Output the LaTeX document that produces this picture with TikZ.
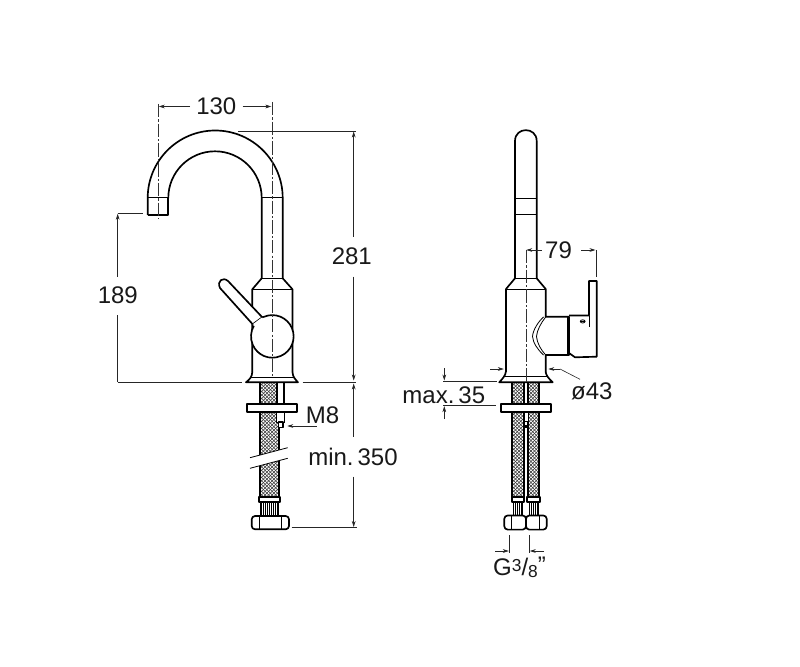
\documentclass[tikz,border=0pt]{standalone}
\usepackage{fontspec}
\setmainfont{Liberation Sans}
\usetikzlibrary{arrows.meta}
\newcommand\braidfill[4]{%
  \begin{scope}
    \clip (#1,#2) rectangle (#3,#4);
    \foreach \k in {-130,-126.5,...,30} {
      \draw[mesh] ({#1+\k},#2) -- ({#1+\k+#4-#2},#4);
      \draw[mesh] ({#1+\k},#4) -- ({#1+\k+#4-#2},#2);
    }
  \end{scope}}
\tikzset{
  body/.style={line width=1.25pt,line join=round,black},
  thin part/.style={line width=0.6pt,black},
  mesh/.style={line width=0.42pt,black!80},
  dimline/.style={line width=0.45pt,black!85},
  dimarrow/.style={dimline,-{Stealth[length=4.5pt,width=2.8pt]}},
  axis/.style={line width=0.45pt,black!80,dash pattern=on 10pt off 1.6pt on 1.6pt off 1.6pt},
  dimtext/.style={font=\fontsize{18}{20}\selectfont,inner sep=0pt,text=black!90}
}
\begin{document}
\begin{tikzpicture}[x=0.75pt,y=-0.75pt]
\useasboundingbox (0,0) rectangle (800,667);
\fill[white] (0,0) rectangle (800,667);

%% ---------- front view ----------
\braidfill{260}{382.3}{277.3}{404.3}
\braidfill{260}{412.3}{279.3}{497}
\draw[body] (147.7,215) -- (147.7,198) arc[start angle=180,end angle=360,radius=67.5]
  -- (282.7,278.3) -- (292.5,289.3) -- (292.5,372);
\draw[body] (168.3,198) arc[start angle=180,end angle=360,radius=46.7] -- (261.7,278.3) -- (252.3,289.3) -- (252.3,372);
\draw[body] (147.7,215) -- (168.3,215) -- (168.3,198);
\draw[thin part] (147.7,197.6) -- (168.3,197.6) (261.7,197.6) -- (282.7,197.6);
\draw[thin part] (261.7,278.3) -- (282.7,278.3);
\draw[thin part] (252.3,289.3) -- (292.5,289.3);
% base flange
\draw[body,fill=white] (252.3,372) .. controls (252,377) and (250,379) .. (246,382.3) -- (298,382.3)
  .. controls (295,379) and (292.8,377) .. (292.5,372);
\draw[thin part] (251,377) -- (293.5,377);
% tails
\draw[body] (260,382.3) -- (260,404.3) (277.3,382.3) -- (277.3,404.3) (284.3,382.3) -- (284.3,404.3);
\draw[body,fill=white] (247.3,404.3) rectangle (297.3,412.3);
\draw[body] (260,412.3) -- (260,497) (279.3,422) -- (279.3,497);
\draw[thin part,fill=white] (276,412.3) rectangle (284,422.3);
\draw[body,fill=white] (278.6,422.3) rectangle (283.3,427.6);
% handle and hub
\draw[body,fill=white] (262.3,317.3) -- (228,281) .. controls (223,276.5) and (216.5,281) .. (220,288)
  -- (252.7,324.3) -- cycle;
\fill[white] (272,336.7) circle[radius=21.3];
\fill[white] (252.7,324.3) -- (262.3,317.3) -- (270,330) -- cycle;
\draw[body] (262.3,317.3) -- (264,316.8) arc[start angle=247,end angle=570,radius=21.3];
% break in the hose
\fill[white] (250,457.7) -- (287.7,447.7) -- (287.7,458.3) -- (250,468.3) -- cycle;
\draw[thin part] (250,457.7) -- (287.7,447.7) (250,468.3) -- (287.7,458.3);
% connector
\draw[body,fill=white] (259.3,497) rectangle (280,502.3);
\draw[body] (261.3,502.3) -- (261.3,516) (278.3,502.3) -- (278.3,516);
\foreach \x in {263.5,265.5,...,277} \draw[line width=0.45pt] (\x,503) -- (\x,515.5);
\draw[body,fill=white,rounded corners=2.5pt] (251.7,516) rectangle (289,529.3);
\draw[thin part] (259.3,516.5) -- (259.3,529) (281.7,516.5) -- (281.7,529);

% axes
\draw[axis] (158.3,104) -- (158.3,219);
\draw[axis] (271.8,102) -- (271.8,378);

% dimension 130
\node[dimtext] (t130) at (216.3,106.5) {130};
\draw[dimarrow] (t130.west) ++(-6,0) -- (158.8,106.5);
\draw[dimarrow] (t130.east) ++(6,0) -- (271.3,106.5);
% dimension 281
\node[dimtext] (t281) at (351.8,256.5) {281};
\draw[dimline] (238,131) -- (356,131);
\draw[dimarrow] (353.7,236.7) -- (353.7,131.5);
\draw[dimarrow] (353.7,276.7) -- (353.7,380.5);
% dimension 189
\node[dimtext] (t189) at (117.8,295.5) {189};
\draw[dimline] (117.7,213.3) -- (143.3,213.3);
\draw[dimarrow] (117.7,276.7) -- (117.7,213.8);
\draw[dimline] (117.7,315) -- (117.7,382);
% base line
\draw[dimline] (117.7,382) -- (241.7,382) (302.7,382) -- (356,382);
% dimension min. 350
\node[dimtext] (t350) at (353,456.5) {min.\,350};
\draw[dimarrow] (353.7,436.7) -- (353.7,383.5);
\draw[dimarrow] (353.7,476.7) -- (353.7,527);
\draw[dimline] (291.7,527.5) -- (356.5,527.5);
% M8
\node[dimtext] (tm8) at (322.5,415) {M8};
\draw[dimarrow] (316.7,426) -- (287.3,426);

%% ---------- side view ----------
\braidfill{512.3}{382.3}{524}{404}
\braidfill{527.7}{382.3}{539.3}{404}
\braidfill{512.3}{412.3}{524}{496.7}
\braidfill{527.7}{412.3}{539.3}{496.7}
\draw[body] (506,372) -- (506,289) -- (515,278.3) -- (515,141)
  .. controls (515,126.5) and (536.7,126.5) .. (536.7,141) -- (536.7,278.3) -- (545.7,289) -- (545.7,316.8)
  -- (569,316.8) -- (569,355) -- (545.7,355) -- (545.7,372);
\draw[thin part] (515,198.7) -- (536.7,198.7) (515,214) -- (536.7,214);
\draw[thin part] (515,278.3) -- (536.7,278.3) (506,289) -- (545.7,289);
% collar curves
\draw[thin part] (543.5,317) .. controls (538,322) and (533,330) .. (532.5,336.5) .. controls (533,343) and (538,350) .. (543.5,355);
\draw[thin part] (545.7,317) .. controls (541,323) and (537,330) .. (536.5,336.5) .. controls (537,343) and (541,350) .. (545.7,355);
\draw[thin part] (567.3,317) -- (567.3,355);
% lever
\draw[body] (569,315.5) -- (589,315.5) -- (589,281) -- (596.7,281) -- (596.7,356.7) -- (575,357.3) -- (569,353);
\draw[thin part] (589,315.5) -- (589,326.7);
\draw[thin part] (582.7,321.4) ellipse[x radius=2.4,y radius=1.6];
\draw[thin part] (580.3,321.4) -- (585,321.4);
% flange
\draw[body,fill=white] (505.8,372) .. controls (505.5,375) and (503,378.5) .. (499.2,382.3) -- (552.7,382.3)
  .. controls (548.5,378.5) and (546,375) .. (545.7,372);
\draw[thin part] (505,376.8) -- (546.5,376.8);
% hoses
\draw[body] (512.3,382.3) -- (512.3,404) (524,382.3) -- (524,404) (527.7,382.3) -- (527.7,404) (539.3,382.3) -- (539.3,404);
\draw[body,fill=white] (501,404) rectangle (550.7,412.3);
\draw[body] (512.3,412.3) -- (512.3,496.7) (524,412.3) -- (524,496.7) (527.7,412.3) -- (527.7,496.7) (539.3,412.3) -- (539.3,496.7);
\draw[thin part,fill=white] (524.4,412.3) rectangle (528,421.7);
\fill (525,424.5) rectangle (527,428);
% connectors
\draw[body,fill=white] (511.7,496.7) rectangle (524.3,501.7);
\draw[body,fill=white] (527.3,496.7) rectangle (540,501.7);
\draw[thin part] (513.3,501.7) -- (513.3,515) (522.7,501.7) -- (522.7,515) (529,501.7) -- (529,515) (538.3,501.7) -- (538.3,515);
\foreach \x in {515.2,517.2,519.2,521.2,530.8,532.8,534.8,536.8} \draw[line width=0.45pt] (\x,502) -- (\x,514.5);
\draw[body,fill=white,rounded corners=2.5pt] (504.3,515.5) rectangle (526,529.6);
\draw[body,fill=white,rounded corners=2.5pt] (526,515.5) rectangle (546.7,529.6);
\draw[thin part] (511.5,516) -- (511.5,529) (539.5,516) -- (539.5,529);

\draw[axis] (525.8,250) -- (525.8,382);

% dimension 79
\node[dimtext] (t79) at (558.5,250) {79};
\draw[dimarrow] (t79.west) ++(-3,0) -- (526.3,250);
\draw[dimarrow] (t79.east) ++(9,0) -- (595.5,250);
\draw[dimline] (596,250) -- (596,276.7);
% dimension max. 35
\node[dimtext] (t35) at (443.8,395) {max.\,35};
\draw[dimline] (443.3,381.7) -- (496.7,381.7) (443.3,405) -- (496,405);
\draw[dimarrow] (444.3,368) -- (444.3,380.5);
\draw[dimarrow] (444.3,419) -- (444.3,406.2);
% diameter 43
\node[dimtext] (t43) at (591.8,391.5) {ø43};
\draw[dimarrow] (490,369) -- (503.8,369);
\draw[dimarrow] (560,369) -- (548.3,369);
\draw[dimline] (560,369) -- (580,379.3);
% G 3/8
\node[dimtext] (tg) at (519.5,567) {G\raisebox{3pt}{\fontsize{13}{13}\selectfont 3}/\raisebox{-1.5pt}{\fontsize{13}{13}\selectfont 8}\raisebox{1.5pt}{\fontsize{18}{18}\selectfont\char34}};
\draw[dimline] (509.3,535) -- (509.3,552.5) (529.3,535) -- (529.3,552.5);
\draw[dimarrow] (495,551) -- (508.8,551);
\draw[dimarrow] (544,551) -- (529.8,551);
\end{tikzpicture}
\end{document}
